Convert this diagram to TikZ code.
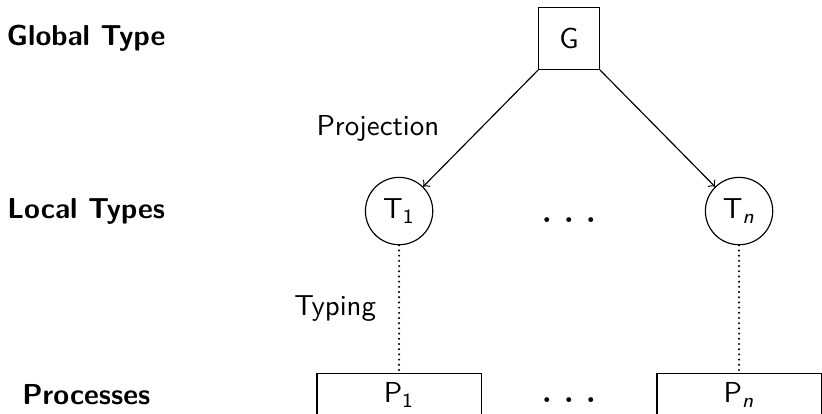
\documentclass[tikz,border=0pt]{standalone}
\usepackage{tikz}
\usetikzlibrary{positioning,calc}
\renewcommand{\familydefault}{\sfdefault}

\begin{document}
\begin{tikzpicture}[
    font=\sffamily,
    gbox/.style={draw, minimum width=7.4mm, minimum height=7.5mm},
    ltype/.style={draw, circle, minimum size=8.2mm, inner sep=1pt},
    proc/.style={draw, minimum width=2cm},
    rowlabel/.style={font=\sffamily\bfseries},
    gap/.style={font=\fontsize{16}{19}\selectfont},
    proj/.style={->},
    typing/.style={line width=0.8pt, line cap=round, dash pattern=on 0pt off 1.8pt},
  ]
  \useasboundingbox (0,0) rectangle (10.01,5.04);

  % global type and its projections
  \node[gbox] (G) at (6.93,4.57) {G};
  \node[ltype] (T1) at (4.86,2.47) {T\textsubscript{1}};
  \node[ltype] (Tn) at (9.0,2.47) {T\textsubscript{\textit{n}}};
  \node[gap, anchor=base, yshift=-0.5mm] (tdots) at ($(T1.base)!0.5!(Tn.base)$) {$\ldots$};

  % processes
  \node[proc, below=1.55cm of T1] (P1) {P\textsubscript{1}};
  \node[proc, below=1.55cm of Tn] (Pn) {P\textsubscript{\textit{n}}};
  \node[gap, anchor=base] (pdots) at ($(P1.base)!0.5!(Pn.base)$) {$\ldots$};

  \draw[proj] (G) -- node[midway, left=3.8mm] {Projection} (T1);
  \draw[proj] (G) -- (Tn);
  \draw[typing] (T1) -- node[midway, left=1.5mm] {Typing} (P1);
  \draw[typing] (Tn) -- (Pn);

  % row labels
  \node[rowlabel] (lglobal) at (1.05,0 |- G) {Global Type};
  \node[rowlabel] (llocal) at (1.05,0 |- T1) {Local Types};
  \node[rowlabel] (lproc) at (1.05,0 |- P1) {Processes};
\end{tikzpicture}
\end{document}
